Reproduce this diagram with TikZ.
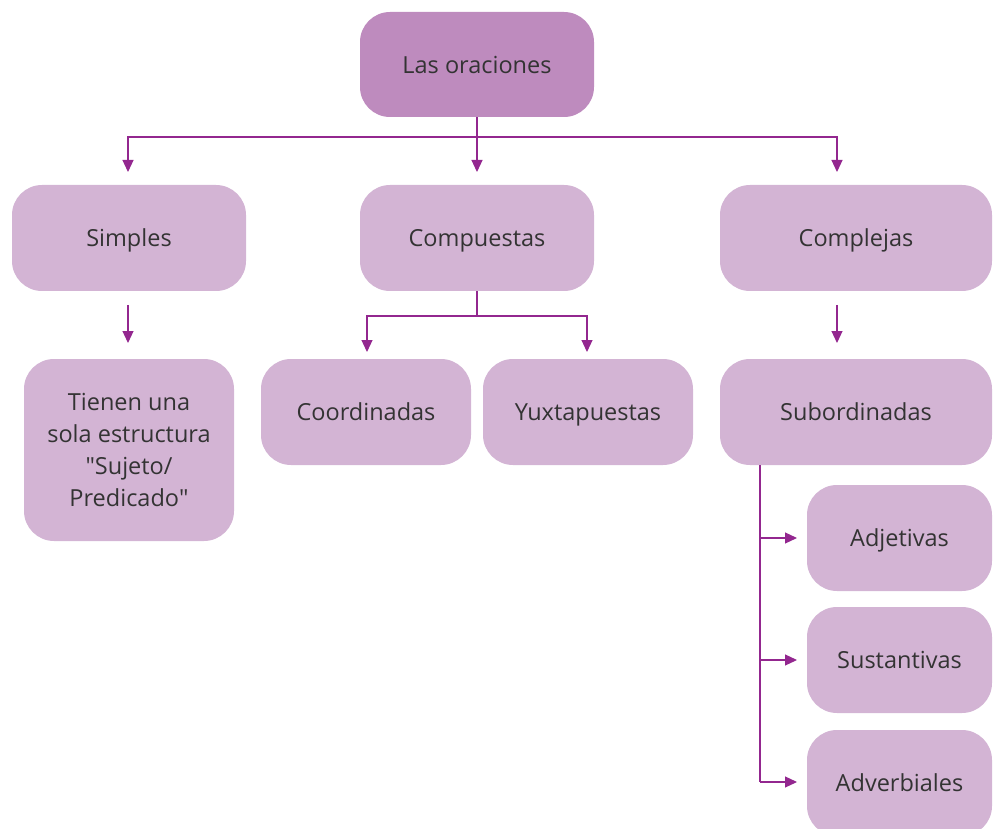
\documentclass[tikz,border=0pt]{standalone}
\usepackage{fontspec}
\setmainfont{Open Sans}
\usetikzlibrary{arrows.meta}
\definecolor{topfill}{HTML}{BE8BBE}
\definecolor{boxfill}{HTML}{D3B4D4}
\definecolor{linec}{HTML}{93278F}
\definecolor{txt}{HTML}{333333}
\tikzset{
  box/.style={rectangle, rounded corners=30pt, fill=boxfill, text=txt, inner sep=0pt, align=center,
    font=\fontsize{23.5}{32}\selectfont, text depth=0pt},
  conn/.style={draw=linec, line width=1.2pt},
  arr/.style={conn, -{Triangle[length=12pt,width=11pt]}},
}
\begin{document}
\begin{tikzpicture}[x=1pt,y=-1pt]
\useasboundingbox (0,0) rectangle (994,829);
\node[box, fill=topfill, minimum width=234pt, minimum height=105pt] (root) at (477,64.5) {Las oraciones};
\node[box, minimum width=234pt, minimum height=106pt] (simples) at (129,238) {Simples};
\node[box, minimum width=234pt, minimum height=106pt] (comp) at (477,238) {Compuestas};
\node[box, minimum width=272pt, minimum height=106pt] (cplx) at (856,238) {Complejas};
\node[box, minimum width=210pt, minimum height=182pt] (tienen) at (129,450) {Tienen una\\sola estructura\\\textquotedbl Sujeto/\\Predicado\textquotedbl};
\node[box, minimum width=210pt, minimum height=106pt] (coord) at (366,412) {Coordinadas};
\node[box, minimum width=210pt, minimum height=106pt] (yuxt) at (588,412) {Yuxtapuestas};
\node[box, minimum width=272pt, minimum height=106pt] (sub) at (856,412) {Subordinadas};
\node[box, minimum width=185pt, minimum height=106pt] (adj) at (899.5,538) {Adjetivas};
\node[box, minimum width=185pt, minimum height=106pt] (sust) at (899.5,660) {Sustantivas};
\node[box, minimum width=185pt, minimum height=106pt] (adv) at (899.5,783) {Adverbiales};

\coordinate (h1) at (477,137);
\draw[conn] (root.south) -- (h1);
\draw[arr] (h1) -| (128,172);
\draw[arr] (h1) -- (477,172);
\draw[arr] (h1) -| (837,172);

\draw[arr] (128,305) -- (128,343);
\draw[arr] (837,305) -- (837,343);

\coordinate (h2) at (477,316);
\draw[conn] (comp.south) -- (h2);
\draw[arr] (h2) -| (367,352);
\draw[arr] (h2) -| (587,352);

\coordinate (v) at (760,465);
\draw[conn] (v) -- (760,782);
\draw[arr] (760,538) -- (797,538);
\draw[arr] (760,660) -- (797,660);
\draw[arr] (760,782) -- (797,782);
\end{tikzpicture}
\end{document}
